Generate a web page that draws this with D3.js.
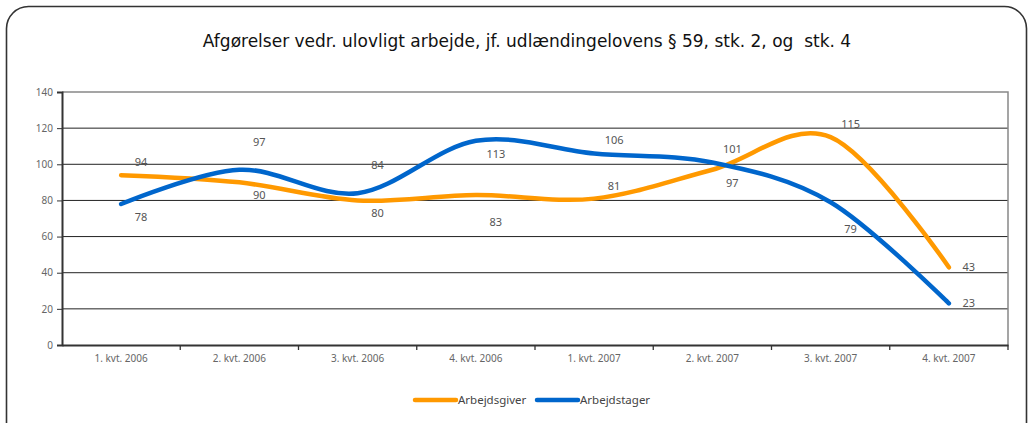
<!DOCTYPE html>
<html>
<head>
<meta charset="utf-8">
<script src="https://cdn.jsdelivr.net/npm/d3@7"></script>
<style>
  body { margin: 0; background: #fff; }
  text { font-family: "Noto Sans", "DejaVu Sans", sans-serif; }
</style>
</head>
<body>
<svg id="chart" width="1030" height="423"></svg>
<script>
const categories = ["1. kvt. 2006", "2. kvt. 2006", "3. kvt. 2006", "4. kvt. 2006",
                    "1. kvt. 2007", "2. kvt. 2007", "3. kvt. 2007", "4. kvt. 2007"];
const arbejdsgiver = [94, 90, 80, 83, 81, 97, 115, 43];
const arbejdstager = [78, 97, 84, 113, 106, 101, 79, 23];
const yTicks = [0, 20, 40, 60, 80, 100, 120, 140];
const titleText = "Afgørelser vedr. ulovligt arbejde, jf. udlændingelovens § 59, stk. 2, og  stk. 4";

// where each value label sits relative to its point
// a = just above, A = well above, b = below, B = well below, r = right
const placeGiver  = ["a", "b", "b", "B", "a", "b", "a", "r"];
const placeTager  = ["b", "A", "A", "b", "a", "a", "B", "r"];
const placeDy = {a: -9, A: -24, b: 17, B: 31, r: 4};

const series = [
    {name: "Arbejdsgiver", values: arbejdsgiver, place: placeGiver, color: "#ff9900"},
    {name: "Arbejdstager", values: arbejdstager, place: placeTager, color: "#0066cc"}
];

const svg = d3.select("#chart");
const plot = {left: 62, right: 1008, top: 92, bottom: 345};

// outer rounded frame
svg.append("rect")
    .attr("x", 6.5).attr("y", 6.5)
    .attr("width", 1020).attr("height", 440)
    .attr("rx", 22).attr("ry", 22)
    .style("fill", "#fff").style("stroke", "#333").style("stroke-width", 1.6);

svg.append("text")
    .attr("x", 527).attr("y", 47)
    .attr("text-anchor", "middle")
    .style("font-family", "'DejaVu Sans', sans-serif")
    .style("font-size", "17px").style("fill", "#111")
    .style("white-space", "pre")
    .text(titleText);

const x = d3.scaleBand().domain(categories).range([plot.left, plot.right]).padding(0);
const y = d3.scaleLinear().domain([0, 140]).range([plot.bottom, plot.top]);
const cx = d => x(d) + x.bandwidth() / 2;

// gridlines
svg.append("g").selectAll("line.grid")
    .data(yTicks.filter(t => t > 0 && t < 140)).join("line").attr("class", "grid")
    .attr("x1", plot.left).attr("x2", plot.right)
    .attr("y1", d => y(d)).attr("y2", d => y(d))
    .style("stroke", "#222").style("stroke-width", 1);

// plot border (top + right, grey)
svg.append("path")
    .attr("d", `M${plot.left},${y(140)}H${plot.right}V${plot.bottom}`)
    .style("fill", "none").style("stroke", "#888").style("stroke-width", 1.5);

// y axis
const yAxis = svg.append("g")
    .attr("transform", `translate(${plot.left},0)`)
    .call(d3.axisLeft(y).tickValues(yTicks).tickSize(5).tickPadding(4));
yAxis.select(".domain").style("stroke", "#333").style("stroke-width", 2);
yAxis.selectAll(".tick line").style("stroke", "#333");
yAxis.selectAll(".tick text").style("font-size", "10px").style("fill", "#666");

// x axis
const xAxis = svg.append("g")
    .attr("transform", `translate(0,${plot.bottom})`)
    .call(d3.axisBottom(x).tickSize(0).tickPadding(10));
xAxis.select(".domain").style("stroke", "#333").style("stroke-width", 2);
xAxis.selectAll(".tick text").style("font-size", "10px").style("fill", "#666");

// tick marks between categories
svg.append("g").selectAll("line.xtick")
    .data(categories.map(c => x(c)).concat([plot.right]).slice(1))
    .join("line").attr("class", "xtick")
    .attr("x1", d => d).attr("x2", d => d)
    .attr("y1", plot.bottom).attr("y2", plot.bottom + 5)
    .style("stroke", "#333").style("stroke-width", 1.3);

const line = d3.line()
    .x((d, i) => cx(categories[i]))
    .y(d => y(d))
    .curve(d3.curveCardinal.tension(0));

svg.append("g").selectAll("path.series")
    .data(series).join("path").attr("class", "series")
    .attr("d", d => line(d.values))
    .style("fill", "none")
    .style("stroke", d => d.color)
    .style("stroke-width", 4.5)
    .style("stroke-linecap", "round")
    .style("stroke-linejoin", "round");

// value labels
series.forEach(s => {
    svg.append("g").selectAll("text")
        .data(s.values).join("text")
        .attr("x", (d, i) => cx(categories[i]) + 20)
        .attr("y", (d, i) => y(d) + placeDy[s.place[i]])
        .attr("text-anchor", "middle")
        .style("font-size", "11px").style("fill", "#555")
        .text(d => d);
});

// legend
const legend = svg.append("g").attr("transform", "translate(413,400)");
const legendX = [0, 122];
series.forEach((s, i) => {
    const g = legend.append("g").attr("transform", `translate(${legendX[i]},0)`);
    g.append("line").attr("x1", 2).attr("x2", 43).attr("y1", 0).attr("y2", 0)
        .style("stroke", s.color).style("stroke-width", 4.5).style("stroke-linecap", "round");
    g.append("text").attr("x", 45).attr("y", 4)
        .style("font-size", "11.5px").style("fill", "#444")
        .text(s.name);
});
</script>
</body>
</html>
